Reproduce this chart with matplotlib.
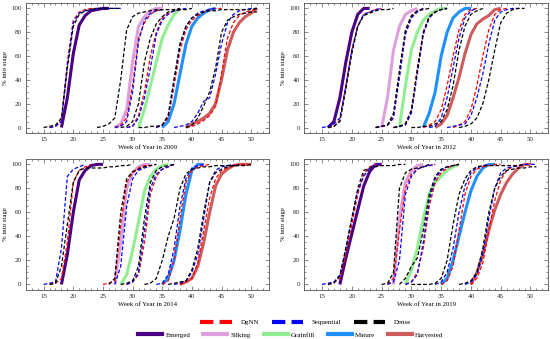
import matplotlib
matplotlib.use("Agg")
import matplotlib.pyplot as plt
from matplotlib.lines import Line2D
from matplotlib.ticker import MultipleLocator
import numpy as np

plt.rcParams['font.family'] = ['Liberation Serif', 'DejaVu Serif']

years = [2009, 2012, 2014, 2019]
stages = ["Emerged", "Silking", "Grainfill", "Mature", "Harvested"]
stage_colors = ["#4b0082", "#dda0dd", "#90ee90", "#1e90ff", "#cd5c5c"]
models = ["DgNN", "Sequential", "Dense"]
model_colors = ["red", "blue", "black"]

# each curve: (first week, weekly % values)
obs_2009 = [(18, [0, 25, 62, 86, 94, 98, 99, 100, 100]),
            (27, [0, 3, 15, 55, 85, 93, 98, 100, 100]),
            (31, [0, 15, 35, 55, 75, 86, 95, 100]),
            (35, [0, 5, 20, 45, 70, 85, 92, 96, 99, 100]),
            (39, [0, 3, 5, 8, 12, 20, 40, 65, 80, 88, 93, 96, 100])]
dgnn_2009 = [(16, [0, 1, 6, 55, 90, 97, 99, 100, 100]),
             (27, [0, 2, 8, 35, 75, 88, 95, 98, 99]),
             (29, [0, 1, 10, 30, 60, 80, 92, 96, 98, 99]),
             (34, [0, 2, 8, 35, 65, 82, 90, 94, 97, 99, 100, 100]),
             (39, [0, 1, 3, 6, 10, 18, 45, 75, 88, 94, 97, 98, 100])]
seq_2009 = [(16, [0, 1, 5, 52, 88, 96, 98, 99, 100, 100, 100, 100, 100]),
            (27, [0, 1, 5, 30, 72, 90, 96, 98, 99]),
            (29, [0, 1, 8, 25, 50, 78, 90, 95, 98, 99, 100]),
            (34, [0, 2, 10, 40, 70, 85, 92, 96, 98, 99, 100]),
            (37, [0, 1, 2, 5, 12, 22, 25, 45, 70, 88, 95, 98, 99, 100, 100])]
dense_2009 = [(15, [0, 1, 2, 8, 50, 85, 95, 98, 99, 100, 100, 100, 100, 100]),
              (24, [0, 1, 3, 8, 40, 82, 93, 96, 97, 98, 99, 99, 99, 99, 100]),
              (28, [0, 1, 5, 20, 55, 75, 87, 93, 97, 98, 99, 99, 100]),
              (31, [0, 0, 1, 1, 2, 10, 40, 70, 85, 92, 95, 97, 98, 98, 99, 99,
                    99, 99, 99, 99, 100]),
              (39, [0, 2, 8, 18, 30, 50, 80, 90, 93, 95, 96, 97, 97])]

obs_2012 = [(16, [0, 5, 25, 55, 80, 95, 100, 100]),
            (25, [0, 25, 65, 85, 95, 98, 100]),
            (28, [0, 35, 65, 80, 90, 95, 98, 100, 100]),
            (32, [0, 12, 30, 60, 80, 92, 97, 100, 100]),
            (34, [0, 3, 10, 25, 42, 62, 78, 87, 91, 94, 99, 100])]
dgnn_2012 = [(16, [0, 1, 6, 35, 65, 85, 95, 97, 99, 100]),
             (24, [0, 1, 2, 10, 45, 80, 93, 98, 100]),
             (27, [0, 1, 3, 15, 50, 80, 93, 97, 99, 100]),
             (32, [0, 2, 5, 15, 35, 60, 82, 95, 99, 100]),
             (37, [0, 2, 5, 15, 35, 60, 82, 95, 99, 100])]
seq_2012 = [(15, [0, 1, 3, 8, 35, 65, 85, 95, 97, 99, 100]),
            (24, [0, 1, 2, 8, 42, 78, 92, 97, 100]),
            (27, [0, 1, 2, 12, 45, 78, 92, 97, 99, 100]),
            (33, [0, 1, 8, 25, 50, 75, 92, 98, 100]),
            (36, [0, 1, 2, 3, 10, 25, 45, 70, 90, 97, 99, 100, 100])]
dense_2012 = [(16, [0, 1, 5, 32, 62, 85, 94, 96, 98, 99, 99, 100]),
              (24, [0, 1, 2, 12, 48, 82, 94, 98, 99, 100]),
              (27, [0, 1, 3, 14, 48, 80, 93, 97, 99, 100]),
              (30, [0, 0, 1, 1, 3, 5, 15, 35, 65, 85, 95, 98, 100]),
              (38, [0, 1, 3, 8, 20, 40, 65, 88, 96, 99, 100, 100])]

obs_2014 = [(18, [0, 25, 60, 87, 95, 99, 100, 100]),
            (27, [0, 35, 80, 93, 98, 100, 100]),
            (28, [0, 8, 28, 52, 78, 90, 96, 99, 100]),
            (35, [0, 5, 20, 45, 75, 95, 100, 100]),
            (38, [0, 2, 5, 15, 35, 60, 82, 92, 96, 99, 100, 100, 100])]
dgnn_2014 = [(16, [0, 1, 5, 35, 85, 95, 98, 100]),
             (25, [0, 1, 3, 50, 85, 93, 97, 99, 99, 100]),
             (29, [0, 2, 8, 35, 75, 90, 96, 98, 100]),
             (35, [0, 3, 20, 55, 85, 95, 98, 99, 100]),
             (38, [0, 2, 5, 18, 45, 72, 88, 95, 97, 99, 100, 100, 100])]
seq_2014 = [(15, [0, 1, 2, 30, 90, 96, 98, 100]),
            (27, [0, 15, 65, 88, 95, 97, 99]),
            (29, [0, 2, 10, 45, 80, 92, 96, 98, 100]),
            (34, [0, 1, 8, 30, 65, 88, 97, 99, 100]),
            (37, [0, 1, 3, 10, 25, 55, 85, 95, 98, 99, 100])]
dense_2014 = [(16, [0, 1, 15, 50, 85, 95, 97, 97, 97, 97, 98, 98, 99, 99, 100]),
              (26, [0, 5, 60, 88, 94, 96, 98, 99, 100]),
              (28, [0, 1, 3, 15, 55, 85, 95, 98, 99, 100]),
              (32, [0, 1, 5, 20, 40, 55, 80, 92, 96, 97, 98, 98, 99, 99, 99,
                    99, 100]),
              (36, [0, 1, 2, 3, 12, 30, 60, 85, 93, 96, 98, 99, 99, 99, 100])]

obs_2019 = [(18, [0, 22, 42, 62, 82, 94, 100, 100]),
            (27, [0, 55, 85, 95, 99, 100]),
            (29, [0, 12, 30, 55, 75, 85, 90, 95, 98, 100]),
            (35, [0, 5, 20, 40, 60, 78, 90, 97, 100, 100]),
            (40, [0, 10, 25, 45, 62, 75, 85, 92, 97, 100, 100])]
dgnn_2019 = [(16, [0, 2, 5, 25, 50, 75, 92, 98, 100, 100]),
             (26, [0, 5, 45, 80, 92, 96, 98, 99, 100]),
             (29, [0, 2, 10, 30, 65, 85, 93, 97, 99, 100]),
             (35, [0, 3, 15, 45, 75, 90, 96, 98, 99, 100, 100]),
             (40, [0, 5, 18, 45, 70, 87, 95, 98, 99, 100, 100, 100])]
seq_2019 = [(15, [0, 1, 2, 8, 30, 55, 78, 90, 97, 100, 100]),
            (26, [0, 2, 20, 75, 90, 96, 98, 99, 100]),
            (29, [0, 2, 8, 35, 70, 88, 95, 98, 99, 100]),
            (34, [0, 2, 10, 30, 60, 82, 93, 97, 99, 100]),
            (39, [0, 2, 8, 25, 55, 80, 93, 97, 98, 99, 100, 100, 100])]
dense_2019 = [(16, [0, 1, 7, 30, 55, 80, 95, 97, 98, 99, 99, 99, 100, 100]),
              (25, [0, 1, 10, 80, 93, 96, 97, 98, 100]),
              (28, [0, 5, 15, 22, 45, 75, 90, 96, 98, 99, 100]),
              (30, [0, 0, 0, 0, 1, 5, 20, 50, 75, 88, 95, 98, 99, 99, 99, 99,
                    99, 99, 99, 100]),
              (38, [0, 1, 3, 10, 30, 60, 80, 90, 95, 96, 97, 97, 98, 98])]

observed = [obs_2009, obs_2012, obs_2014, obs_2019]
predicted = [[dgnn_2009, seq_2009, dense_2009],
             [dgnn_2012, seq_2012, dense_2012],
             [dgnn_2014, seq_2014, dense_2014],
             [dgnn_2019, seq_2019, dense_2019]]

fig = plt.figure(figsize=(5.5, 3.39), dpi=100)
positions = [[0.047, 0.608, 0.442, 0.383], [0.553, 0.608, 0.444, 0.383],
             [0.047, 0.145, 0.442, 0.386], [0.553, 0.145, 0.444, 0.386]]

for k, yr in enumerate(years):
    ax = fig.add_axes(positions[k])
    for s, (w0, vals) in enumerate(observed[k]):
        ax.plot(w0 + np.arange(len(vals)), vals, color=stage_colors[s],
                lw=2.2, solid_capstyle='butt')
    for m in range(3):
        for w0, vals in predicted[k][m]:
            ax.plot(w0 + np.arange(len(vals)), vals, color=model_colors[m],
                    lw=0.9, ls=(0, (3, 1.7)))
    ax.set_xlim(12, 53)
    ax.set_ylim(-4.5, 104.5)
    ax.set_xticks([15, 20, 25, 30, 35, 40, 45, 50])
    ax.xaxis.set_minor_locator(MultipleLocator(1))
    ax.yaxis.set_major_locator(MultipleLocator(20))
    ax.yaxis.set_minor_locator(MultipleLocator(5))
    ax.tick_params(which='both', direction='in', top=True, right=True,
                   labelsize=5, width=0.5, colors='#555555', labelcolor='#222222',
                   pad=3)
    ax.tick_params(which='major', length=3)
    ax.tick_params(which='minor', length=1.5)
    for sp in ax.spines.values():
        sp.set_linewidth(0.6)
        sp.set_color('#555555')
    ax.set_xlabel(f"Week of Year in {yr}", fontsize=4.9, labelpad=2)
    ax.set_ylabel("% into stage", fontsize=4.9, labelpad=2.5)

model_handles = [Line2D([], [], color=c, lw=3, ls=(0, (3.2, 1.5))) for c in model_colors]
fig.legend(model_handles, models, loc='center', bbox_to_anchor=(0.556, 0.05),
           ncol=3, frameon=False, fontsize=5, handlelength=4.5,
           columnspacing=1.8, handletextpad=1.3, borderpad=0, borderaxespad=0)
stage_handles = [Line2D([], [], color=c, lw=3) for c in stage_colors]
fig.legend(stage_handles, stages, loc='center', bbox_to_anchor=(0.529, 0.013),
           ncol=5, frameon=False, fontsize=5, handlelength=3.45,
           columnspacing=1.8, handletextpad=0.5, borderpad=0, borderaxespad=0)

fig.savefig("out.png", dpi=100)
